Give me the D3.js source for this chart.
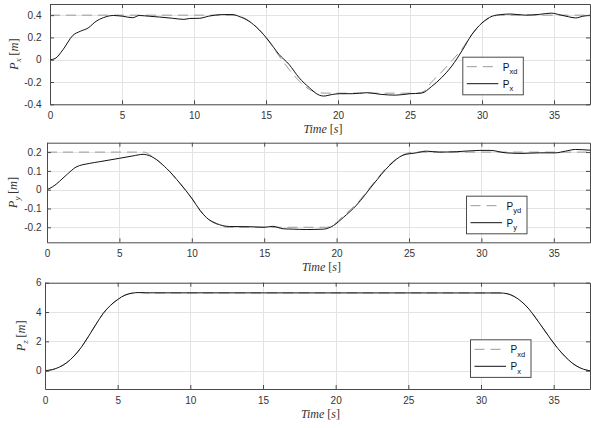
<!DOCTYPE html>
<html><head><meta charset="utf-8">
<script src="https://cdn.jsdelivr.net/npm/d3@7"></script>
<style>body{margin:0;background:#fff} svg{display:block}</style>
</head><body>
<svg id="chart" width="591" height="428"></svg>
<script>
// ---------- data ----------
const timeTicks = [0, 5, 10, 15, 20, 25, 30, 35];
const pxTicks = [-0.4, -0.2, 0, 0.2, 0.4];
const pyTicks = [-0.2, -0.1, 0, 0.1, 0.2];
const pzTicks = [0, 2, 4, 6];

const pxDesired = [[0,0.4],[12.6,0.4],[13.1,0.392],[13.8,0.35],[14.5,0.272],[15.2,0.165],[15.9,0.035],[16.6,-0.087],[17.3,-0.19],[18.0,-0.266],[18.6,-0.296],[19.2,-0.3],[25.5,-0.3],[26.0,-0.28],[26.5,-0.2],[27.2,-0.11],[27.9,-0.01],[28.6,0.095],[29.3,0.227],[30.0,0.33],[30.7,0.385],[31.3,0.4],[37.5,0.4]];
const pxActual = [[0,0],[0.35,0.01],[0.9,0.09],[1.6,0.22],[2.1,0.255],[2.65,0.285],[3.2,0.345],[3.7,0.377],[4.4,0.397],[5.05,0.39],[5.75,0.377],[6.2,0.397],[6.9,0.39],[7.6,0.383],[8.5,0.372],[9.3,0.362],[9.7,0.37],[10.4,0.372],[11.0,0.39],[12.0,0.405],[12.7,0.405],[13.1,0.39],[13.8,0.347],[14.5,0.272],[15.2,0.168],[15.9,0.048],[16.6,-0.042],[17.3,-0.162],[18.0,-0.25],[18.7,-0.318],[19.0,-0.326],[19.6,-0.312],[20.1,-0.305],[21,-0.305],[22,-0.296],[23,-0.311],[24,-0.318],[25,-0.305],[25.8,-0.3],[26.5,-0.24],[27.2,-0.16],[27.9,-0.057],[28.6,0.078],[29.3,0.227],[30.0,0.33],[30.7,0.39],[31.3,0.405],[32,0.41],[33,0.4],[34,0.407],[34.8,0.418],[35.5,0.4],[36,0.386],[36.5,0.375],[37,0.39],[37.5,0.4]];

const pyDesired = [[0,0.2],[6.7,0.2],[7.2,0.18],[8.26,0.113],[9.18,0.034],[10,-0.046],[10.57,-0.11],[11.03,-0.15],[11.7,-0.183],[12.5,-0.2],[19.3,-0.2],[19.8,-0.185],[20.46,-0.14],[21.38,-0.075],[22.5,0.03],[23.67,0.135],[24.6,0.185],[25.3,0.2],[37.5,0.2]];
const pyActual = [[0,0],[0.4,0.016],[1.34,0.078],[2.0,0.12],[2.95,0.14],[3.64,0.149],[5,0.167],[5.95,0.18],[6.64,0.188],[7.1,0.18],[8.26,0.113],[9.18,0.034],[10,-0.046],[10.57,-0.11],[11.03,-0.15],[11.7,-0.18],[12.6,-0.196],[14,-0.197],[15,-0.2],[15.6,-0.195],[16.3,-0.208],[17,-0.21],[17.9,-0.212],[19.1,-0.21],[19.8,-0.19],[20.46,-0.148],[21.38,-0.082],[22.5,0.025],[23.67,0.13],[24.6,0.184],[25.5,0.196],[26.2,0.205],[27.1,0.2],[28.26,0.202],[29.9,0.209],[30.6,0.209],[31.7,0.196],[32.8,0.193],[34,0.196],[35.1,0.196],[35.8,0.205],[36.5,0.214],[37.5,0.21]];

const pzDesired = [[0,0],[0.5,0.07],[1.0,0.25],[1.5,0.55],[2.0,1.0],[2.5,1.6],[3.0,2.35],[3.5,3.15],[4.0,3.9],[4.5,4.45],[5.0,4.85],[5.5,5.15],[6.0,5.28],[6.5,5.32],[7,5.3],[31.3,5.3],[31.8,5.25],[32.3,5.05],[32.8,4.7],[33.3,4.2],[33.8,3.55],[34.3,2.85],[34.8,2.15],[35.3,1.5],[35.8,0.95],[36.3,0.5],[36.8,0.2],[37.3,0.03],[37.5,0]];
const pzActual = [[0,0],[0.5,0.07],[1.0,0.25],[1.5,0.55],[2.0,1.0],[2.5,1.6],[3.0,2.35],[3.5,3.15],[4.0,3.9],[4.5,4.45],[5.0,4.85],[5.5,5.15],[6.0,5.29],[6.5,5.33],[7,5.31],[31.3,5.3],[31.8,5.25],[32.3,5.05],[32.8,4.7],[33.3,4.2],[33.8,3.55],[34.3,2.85],[34.8,2.15],[35.3,1.5],[35.8,0.95],[36.3,0.5],[36.8,0.2],[37.3,0.03],[37.5,0]];

// ---------- layout ----------
const panels = [
  {left:50, right:590, top:4,     bottom:104.3, yDomain:[-0.4,0.5],  yTicks:pxTicks, desired:pxDesired, actual:pxActual, ySub:'x', legSubs:['xd','x'], legX:462.3, legY:56.7, ylabX:18},
  {left:47, right:590, top:142.7, bottom:242.3, yDomain:[-0.28,0.25], yTicks:pyTicks, desired:pyDesired, actual:pyActual, ySub:'y', legSubs:['yd','y'], legX:466,   legY:195.7, ylabX:16.5},
  {left:45, right:590, top:282.7, bottom:389,   yDomain:[-1.25,6],   yTicks:pzTicks, desired:pzDesired, actual:pzActual, ySub:'z', legSubs:['xd','x'], legX:470,   legY:339.3, ylabX:24.5}
];
const tDomain = [0, 37.5];
const axisColor = '#4a4a4a', textColor = '#333', gridColor = '#e3e3e3';
const sans = 'Liberation Sans, Arial, Helvetica, sans-serif';
const serif = 'Liberation Serif, Times New Roman, serif';

const svg = d3.select('#chart');

panels.forEach((p, i) => {
  const x = d3.scaleLinear().domain(tDomain).range([p.left, p.right]);
  const y = d3.scaleLinear().domain(p.yDomain).range([p.bottom, p.top]);
  const g = svg.append('g');

  g.append('clipPath').attr('id', 'clip' + i).append('rect')
    .attr('x', p.left).attr('y', p.top).attr('width', p.right - p.left).attr('height', p.bottom - p.top);

  // grid
  g.append('g').selectAll('line').data(timeTicks).join('line')
    .attr('x1', d => Math.round(x(d)) + 0.5).attr('x2', d => Math.round(x(d)) + 0.5)
    .attr('y1', p.top).attr('y2', p.bottom).attr('stroke', gridColor).attr('stroke-width', 1);
  g.append('g').selectAll('line').data(p.yTicks).join('line')
    .attr('y1', d => Math.round(y(d)) + 0.5).attr('y2', d => Math.round(y(d)) + 0.5)
    .attr('x1', p.left).attr('x2', p.right).attr('stroke', gridColor).attr('stroke-width', 1);

  // lines
  const line = d3.line().x(d => x(d[0])).y(d => y(d[1])).curve(d3.curveMonotoneX);
  const lg = g.append('g').attr('clip-path', `url(#clip${i})`);
  lg.append('path').datum(p.desired).attr('d', line).attr('fill', 'none')
    .attr('stroke', '#9a9a9a').attr('stroke-width', 1).attr('stroke-dasharray', '10,6');
  lg.append('path').datum(p.actual).attr('d', line).attr('fill', 'none')
    .attr('stroke', '#111').attr('stroke-width', 1);

  // axes (bottom + top + left + right) with inside ticks
  const tl = 4;
  const bottomAxis = d3.axisBottom(x).tickValues(timeTicks).tickSizeInner(-tl).tickSizeOuter(0).tickPadding(8).tickFormat(d3.format('d'));
  const topAxis = d3.axisTop(x).tickValues(timeTicks).tickSizeInner(-tl).tickSizeOuter(0).tickFormat('');
  const leftAxis = d3.axisLeft(y).tickValues(p.yTicks).tickSizeInner(-tl).tickSizeOuter(0).tickPadding(p.left - 41.5).tickFormat(d => String(d));
  const rightAxis = d3.axisRight(y).tickValues(p.yTicks).tickSizeInner(-tl).tickSizeOuter(0).tickFormat('');

  [[bottomAxis, `translate(0,${p.bottom})`], [topAxis, `translate(0,${p.top})`],
   [leftAxis, `translate(${p.left},0)`], [rightAxis, `translate(${p.right},0)`]].forEach(([ax, tr]) => {
    const a = g.append('g').attr('transform', tr).call(ax);
    a.select('.domain').attr('stroke', axisColor);
    a.selectAll('.tick line').attr('stroke', axisColor);
    a.selectAll('.tick text').attr('fill', textColor).style('font-family', sans).style('font-size', '10px');
  });

  // y label
  const yl = g.append('text')
    .attr('transform', `translate(${p.ylabX},${(p.top + p.bottom) / 2}) rotate(-90)`)
    .attr('text-anchor', 'middle').attr('fill', textColor)
    .style('font-family', serif).style('font-size', '12.5px');
  yl.append('tspan').attr('font-style', 'italic').text('P');
  yl.append('tspan').attr('font-style', 'italic').attr('dy', 3).style('font-size', '9px').text(p.ySub);
  yl.append('tspan').attr('dy', -3).text('\u2009[');
  yl.append('tspan').attr('font-style', 'italic').text('m');
  yl.append('tspan').text(']');

  // time label
  const tlab = g.append('text').attr('x', (p.left + p.right) / 2 + 3).attr('y', p.bottom + 28.5)
    .attr('text-anchor', 'middle').attr('fill', textColor)
    .style('font-family', serif).style('font-size', '12px');
  tlab.append('tspan').attr('font-style', 'italic').text('Time ');
  tlab.append('tspan').text('[');
  tlab.append('tspan').attr('font-style', 'italic').text('s');
  tlab.append('tspan').text(']');

  // legend
  const lgW = 60.5, lgH = 37.6;
  const leg = g.append('g').attr('transform', `translate(${p.legX},${p.legY})`);
  leg.append('rect').attr('x', 0.5).attr('y', 0.5).attr('width', lgW).attr('height', lgH)
    .attr('fill', '#fff').attr('stroke', axisColor).attr('stroke-width', 1);
  const rows = [{dy: 10, dash: '10,6', col: '#9a9a9a', len: 27.5}, {dy: 27, dash: null, col: '#111', len: 31.5}];
  rows.forEach((r, k) => {
    leg.append('line').attr('x1', 4.5).attr('x2', 4.5 + r.len).attr('y1', r.dy).attr('y2', r.dy)
      .attr('stroke', r.col).attr('stroke-width', 1).attr('stroke-dasharray', r.dash);
    const t = leg.append('text').attr('x', 40.5).attr('y', r.dy + 4).attr('fill', '#111')
      .style('font-family', sans).style('font-size', '10px');
    t.append('tspan').text('P');
    t.append('tspan').attr('dy', 3.5).style('font-size', '7.5px').text(p.legSubs[k]);
  });
});
</script>
</body></html>
